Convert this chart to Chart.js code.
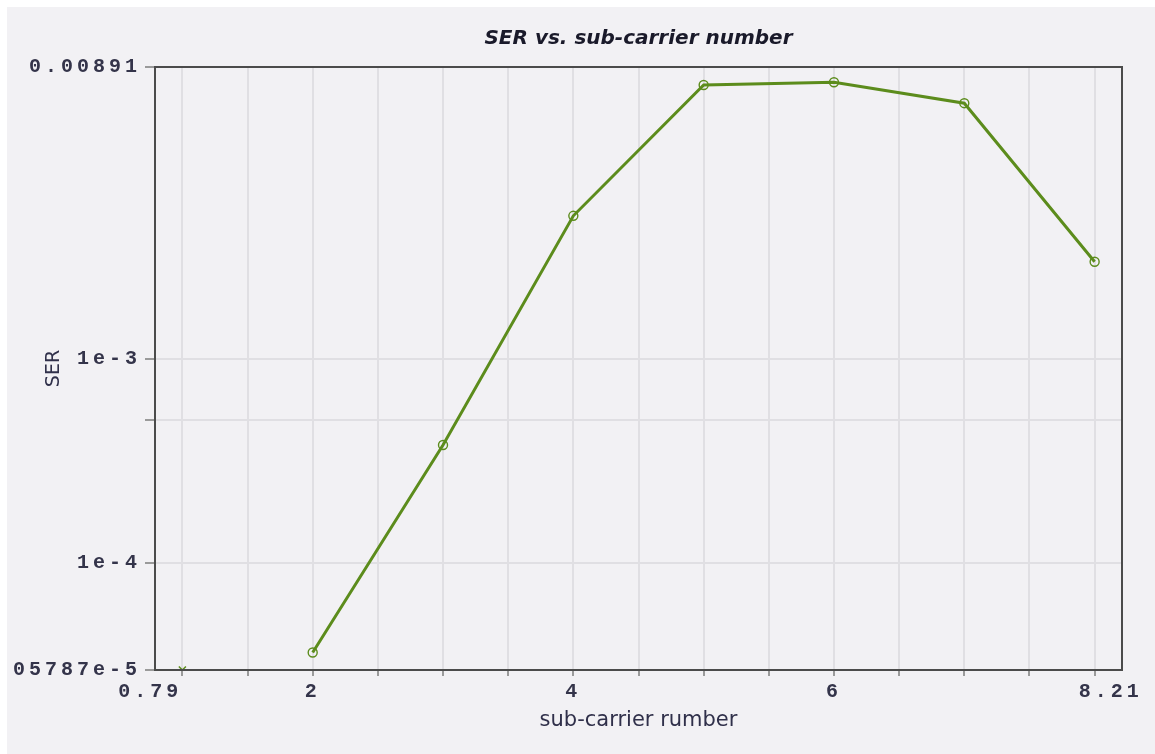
<!DOCTYPE html>
<html>
<head>
<meta charset="utf-8">
<title>SER vs. sub-carrier number</title>
<script src="https://cdn.jsdelivr.net/npm/chart.js@4.4.1/dist/chart.umd.min.js"></script>
<style>
  html, body { margin: 0; padding: 0; background: #ffffff; }
  #wrap { position: absolute; left: 7px; top: 7px; width: 1148px; height: 747px; background: #f2f1f4; }
</style>
</head>
<body>
<div id="wrap"><canvas id="serChart"></canvas></div>
<script>
// sub-carrier numbers and measured SER (0 = no symbol errors seen)
var subCarriers = [1, 2, 3, 4, 5, 6, 7, 8];
var serValues = [0, 3.62e-5, 3.78e-4, 5.04e-3, 2.21e-2, 2.28e-2, 1.80e-2, 3.00e-3];

// axis ranges and tick labels as printed on the plot
var xRange = [0.79, 8.21];
var xTickValues = [1, 1.5, 2, 2.5, 3, 3.5, 4, 4.5, 5, 5.5, 6, 6.5, 7, 7.5, 8];
var xTickLabels = ['0.79    ', '', '2', '', '', '', '4', '', '', '', '6', '', '', '', '  8.21'];
var yRange = [2.97e-5, 2.71e-2];
var yTickValues = [yRange[0], 1e-4, 5e-4, 1e-3, yRange[1]];
var yTickLabels = ['05787e-5', '1e-4', '', '1e-3', '0.00891'];

var green = '#5c8c1c';
var tickFont = { family: "'Liberation Mono', monospace", size: 20, weight: 'bold' };

// scales that draw their tick labels with the wide letter spacing of the original
class SpacedLinear extends Chart.LinearScale {
    static id = 'spacedLinear';
    static defaults = Chart.LinearScale.defaults;
    drawLabels(area) {
        this.ctx.save();
        this.ctx.letterSpacing = '4px';
        super.drawLabels(area);
        this.ctx.restore();
    }
}
class SpacedLog extends Chart.LogarithmicScale {
    static id = 'spacedLog';
    static defaults = Chart.LogarithmicScale.defaults;
    drawLabels(area) {
        this.ctx.save();
        this.ctx.letterSpacing = '4px';
        super.drawLabels(area);
        this.ctx.restore();
    }
}
Chart.register(SpacedLinear, SpacedLog);

// dark frame round the plot area
var boxBorder = {
    id: 'boxBorder',
    afterDatasetsDraw: function(chart) {
        var a = chart.chartArea, c = chart.ctx;
        c.save();
        c.strokeStyle = '#4b4b4b';
        c.lineWidth = 2;
        c.strokeRect(a.left, a.top, a.right - a.left, a.bottom - a.top);
        c.restore();
    }
};

var points = [], zeroPoints = [];
subCarriers.forEach(function(x, i) {
    if (serValues[i] > 0) points.push({ x: x, y: serValues[i] });
    else zeroPoints.push({ x: x, y: yRange[0] });  // log axis: zero sits on the floor
});

var ctx = document.getElementById('serChart').getContext('2d');
var serChart = new Chart(ctx, {
    type: 'line',
    data: {
        datasets: [
            {
                label: 'SER',
                data: points,
                borderColor: green,
                borderWidth: 3,
                tension: 0,
                pointRadius: 4.5,
                pointBorderWidth: 1.4,
                pointBorderColor: green,
                pointBackgroundColor: 'rgba(0,0,0,0)'
            },
            {
                label: 'SER = 0',
                data: zeroPoints,
                showLine: false,
                pointStyle: 'crossRot',
                pointRadius: 5,
                pointBorderWidth: 1.5,
                pointBorderColor: green,
                clip: 0
            }
        ]
    },
    options: {
        responsive: true,
        maintainAspectRatio: false,
        animation: false,
        layout: { padding: { left: 0, right: 33, top: 0, bottom: 0 } },
        scales: {
            x: {
                type: 'spacedLinear',
                min: xRange[0],
                max: xRange[1],
                afterBuildTicks: function(s) { s.ticks = xTickValues.map(v => ({ value: v })); },
                afterFit: function(s) { s.height = 84; },
                ticks: {
                    autoSkip: false,
                    maxRotation: 0,
                    padding: 4,
                    font: tickFont,
                    color: '#34344a',
                    callback: function(value, index) { return xTickLabels[index]; }
                },
                grid: { color: '#e0dfe3', lineWidth: 2, tickLength: 6, tickColor: '#7d7d7d', tickWidth: 1.5 },
                border: { display: false },
                title: {
                    display: true,
                    text: 'sub-carrier rumber',
                    color: '#30304a',
                    font: { family: "'DejaVu Sans', sans-serif", size: 21 },
                    padding: { top: 0, bottom: 21 }
                }
            },
            y: {
                type: 'spacedLog',
                min: yRange[0],
                max: yRange[1],
                afterBuildTicks: function(s) { s.ticks = yTickValues.map(v => ({ value: v })); },
                afterFit: function(s) { s.width = 148; },
                ticks: {
                    autoSkip: false,
                    padding: 4,
                    font: tickFont,
                    color: '#34344a',
                    callback: function(value, index) { return yTickLabels[index]; }
                },
                grid: { color: '#e0dfe3', lineWidth: 2, tickLength: 10, tickColor: '#7d7d7d', tickWidth: 1.5 },
                border: { display: false },
                title: {
                    display: true,
                    text: 'SER',
                    color: '#30304a',
                    font: { family: "'DejaVu Sans', sans-serif", size: 19 },
                    padding: { top: 36, bottom: 0 }
                }
            }
        },
        plugins: {
            legend: { display: false },
            tooltip: { enabled: false },
            title: {
                display: true,
                fullSize: false,
                text: 'SER vs. sub-carrier number',
                color: '#1a1a2a',
                font: { family: "'DejaVu Sans', sans-serif", size: 20, weight: 'bold', style: 'italic' },
                padding: { top: 20, bottom: 16 }
            }
        }
    },
    plugins: [boxBorder]
});
</script>
</body>
</html>
